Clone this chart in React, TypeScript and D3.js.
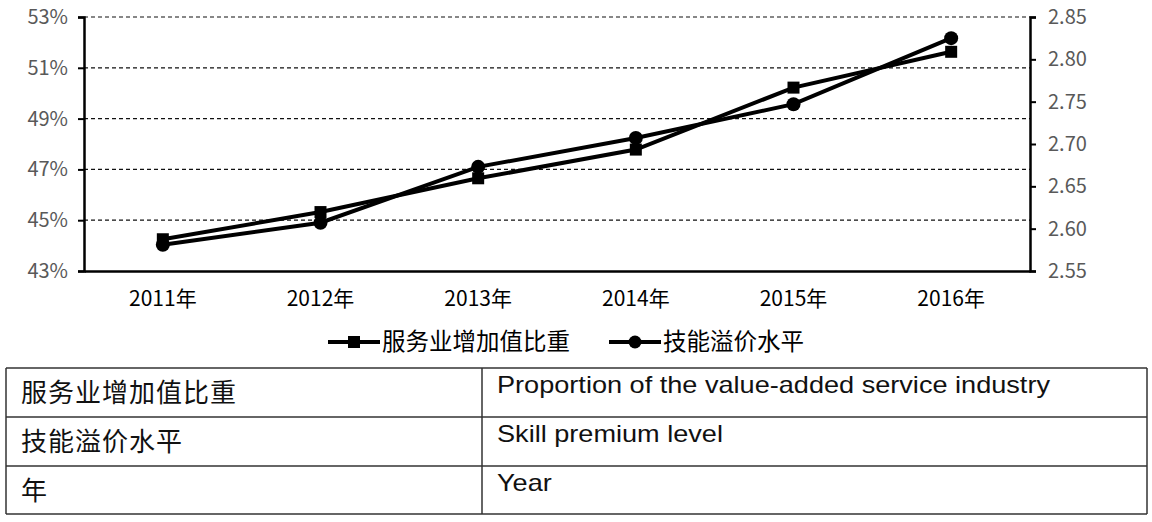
import { useEffect, useRef } from 'react';
import * as d3 from 'd3';

const years = ['2011年', '2012年', '2013年', '2014年', '2015年', '2016年'];
// 服务业增加值比重 (%), left axis
const serviceShare = [44.25, 45.32, 46.65, 47.78, 50.22, 51.63];
// 技能溢价水平, right axis
const skillPremium = [2.581, 2.607, 2.673, 2.707, 2.747, 2.825];
const leftTicks = [43, 45, 47, 49, 51, 53];
const rightTicks = [2.55, 2.6, 2.65, 2.7, 2.75, 2.8, 2.85];
const seriesNames = ['服务业增加值比重', '技能溢价水平'];
const glossary = [
  ['服务业增加值比重', 'Proportion of the value-added service industry'],
  ['技能溢价水平', 'Skill premium level'],
  ['年', 'Year'],
];

const W = 1152;
const H = 522;
const CJK = '"Noto Sans CJK SC", "Noto Sans", sans-serif';

export default function App() {
  const svgRef = useRef<SVGSVGElement>(null);

  useEffect(() => {
    if (!svgRef.current) return;
    const svg = d3.select(svgRef.current);
    svg.selectAll('*').remove();

    const margin = { top: 17, left: 84, right: 122, bottom: 251 };
    const innerW = W - margin.left - margin.right;
    const innerH = H - margin.top - margin.bottom;

    const x = d3.scaleBand<string>().domain(years).range([0, innerW]);
    const yL = d3.scaleLinear().domain([43, 53]).range([innerH, 0]);
    const yR = d3.scaleLinear().domain([2.55, 2.85]).range([innerH, 0]);
    const cx = (d: string) => (x(d) ?? 0) + x.bandwidth() / 2;

    const g = svg
      .append('g')
      .attr('transform', `translate(${margin.left},${margin.top})`);

    // dashed grid
    g.append('g')
      .selectAll('line')
      .data(leftTicks.filter((t) => t !== 43))
      .join('line')
      .attr('x1', 0)
      .attr('x2', innerW)
      .attr('y1', (d) => yL(d))
      .attr('y2', (d) => yL(d))
      .attr('stroke', '#111')
      .attr('stroke-width', 1.2)
      .attr('stroke-dasharray', '4,3');

    // left axis
    const la = g
      .append('g')
      .call(
        d3
          .axisLeft(yL)
          .tickValues(leftTicks)
          .tickSize(6)
          .tickPadding(10)
          .tickFormat((d) => `${d}%`)
      );
    la.select('.domain').attr('stroke', '#000').attr('stroke-width', 2.5);
    la.selectAll('.tick line').attr('stroke', '#000').attr('stroke-width', 2);
    la.selectAll('.tick text')
      .attr('fill', '#595959')
      .style('font-family', CJK)
      .style('font-size', '20px');

    // right axis
    const ra = g
      .append('g')
      .attr('transform', `translate(${innerW},0)`)
      .call(
        d3
          .axisRight(yR)
          .tickValues(rightTicks)
          .tickSize(6)
          .tickPadding(12)
          .tickFormat(d3.format('.2f'))
      );
    ra.select('.domain').attr('stroke', '#000').attr('stroke-width', 2.5);
    ra.selectAll('.tick line').attr('stroke', '#000').attr('stroke-width', 2);
    ra.selectAll('.tick text')
      .attr('fill', '#595959')
      .style('font-family', CJK)
      .style('font-size', '20px');

    // bottom axis
    const ba = g
      .append('g')
      .attr('transform', `translate(0,${innerH})`)
      .call(d3.axisBottom(x).tickSize(0).tickPadding(20));
    ba.select('.domain').attr('stroke', '#000').attr('stroke-width', 2.5);
    ba.selectAll('.tick text')
      .attr('fill', '#000')
      .style('font-family', CJK)
      .style('font-size', '21px');

    const lineL = d3
      .line<number>()
      .x((_, i) => cx(years[i]))
      .y((d) => yL(d));
    const lineR = d3
      .line<number>()
      .x((_, i) => cx(years[i]))
      .y((d) => yR(d));

    g.append('path')
      .datum(serviceShare)
      .attr('fill', 'none')
      .attr('stroke', '#000')
      .attr('stroke-width', 4)
      .attr('d', lineL);
    g.append('path')
      .datum(skillPremium)
      .attr('fill', 'none')
      .attr('stroke', '#000')
      .attr('stroke-width', 4)
      .attr('d', lineR);

    g.selectAll('rect.m')
      .data(serviceShare)
      .join('rect')
      .attr('class', 'm')
      .attr('x', (_, i) => cx(years[i]) - 6)
      .attr('y', (d) => yL(d) - 6)
      .attr('width', 12)
      .attr('height', 12)
      .attr('fill', '#000');
    g.selectAll('circle.m')
      .data(skillPremium)
      .join('circle')
      .attr('class', 'm')
      .attr('cx', (_, i) => cx(years[i]))
      .attr('cy', (d) => yR(d))
      .attr('r', 7)
      .attr('fill', '#000');

    // legend
    const legY = 342;
    const leg = svg.append('g');
    [328, 609].forEach((lx, i) => {
      leg.append('line')
        .attr('x1', lx)
        .attr('x2', lx + 52)
        .attr('y1', legY)
        .attr('y2', legY)
        .attr('stroke', '#000')
        .attr('stroke-width', 4);
      if (i === 0) {
        leg.append('rect')
          .attr('x', lx + 20)
          .attr('y', legY - 6)
          .attr('width', 12)
          .attr('height', 12)
          .attr('fill', '#000');
      } else {
        leg.append('circle')
          .attr('cx', lx + 26)
          .attr('cy', legY)
          .attr('r', 6.5)
          .attr('fill', '#000');
      }
      leg.append('text')
        .attr('x', lx + 54)
        .attr('y', legY)
        .attr('dy', '0.35em')
        .style('font-family', CJK)
        .style('font-size', '23.5px')
        .text(seriesNames[i]);
    });

    // glossary table
    const rows = [368, 417, 466, 514];
    const tx0 = 6;
    const tx1 = 482;
    const tx2 = 1147;
    const tbl = svg.append('g');
    rows.forEach((ry) => {
      tbl.append('line')
        .attr('x1', tx0)
        .attr('x2', tx2)
        .attr('y1', ry)
        .attr('y2', ry)
        .attr('stroke', '#333')
        .attr('stroke-width', 1.5);
    });
    [tx0, tx1, tx2].forEach((cxl) => {
      tbl.append('line')
        .attr('x1', cxl)
        .attr('x2', cxl)
        .attr('y1', rows[0])
        .attr('y2', rows[3])
        .attr('stroke', '#333')
        .attr('stroke-width', 1.5);
    });
    glossary.forEach(([zh, en], i) => {
      tbl.append('text')
        .attr('x', 21)
        .attr('y', rows[i] + 34)
        .style('font-family', CJK)
        .style('font-size', '26px')
        .style('letter-spacing', '1px')
        .attr('fill', '#111')
        .text(zh);
      tbl.append('text')
        .attr('transform', `translate(497,${rows[i] + 25}) scale(1.13,1)`)
        .style('font-family', '"Liberation Sans", Arial, sans-serif')
        .style('font-size', '24px')
        .attr('fill', '#111')
        .text(en);
    });
  }, []);

  return (
    <div style={{ position: 'absolute', left: 0, top: 0 }}>
      <svg ref={svgRef} width={W} height={H} style={{ display: 'block', background: '#fff' }} />
    </div>
  );
}
